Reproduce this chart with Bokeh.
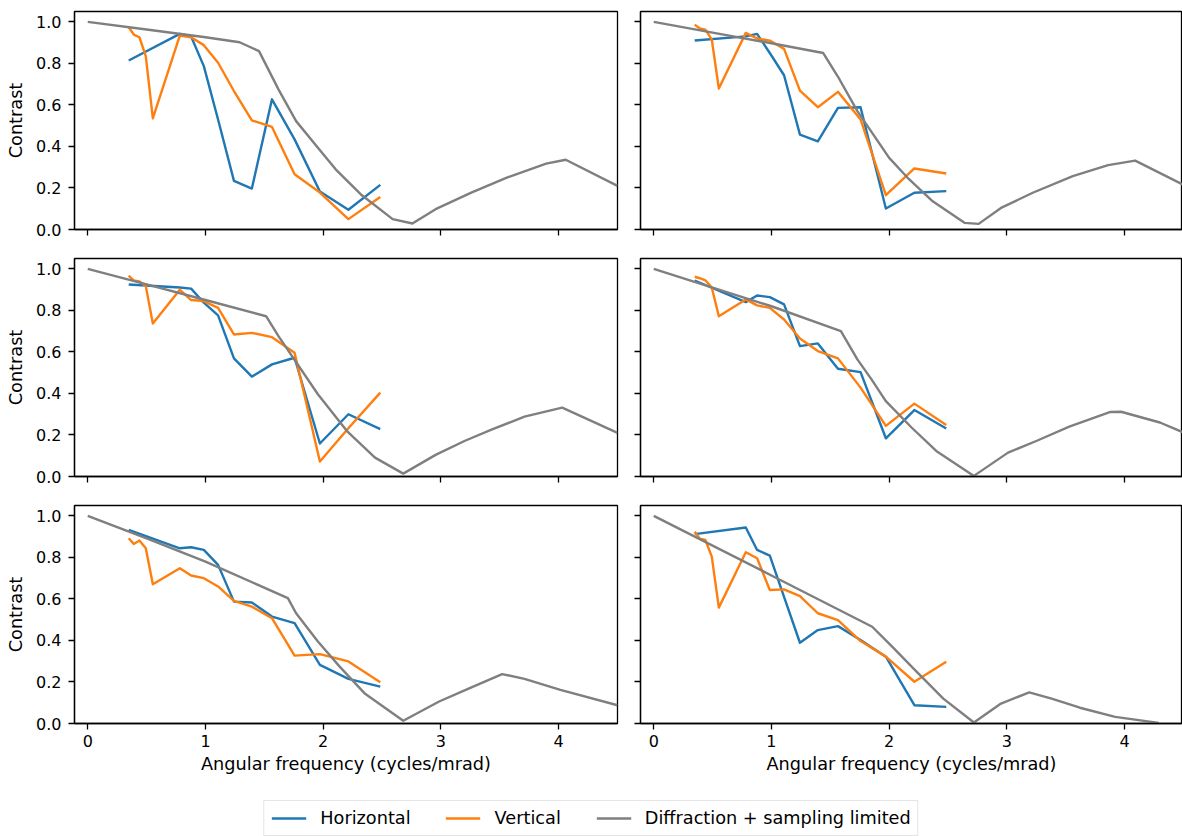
from bokeh.plotting import figure
from bokeh.models import Range1d, FixedTicker, PrintfTickFormatter, Legend, LegendItem
from bokeh.layouts import column, row
from bokeh.embed import file_html
from bokeh.resources import INLINE

# ---------------- data ----------------
freq_h = [0.348, 0.782, 0.878, 0.986, 1.107, 1.242, 1.394, 1.565, 1.757, 1.972, 2.214, 2.485]
freq_v = [0.348, 0.391, 0.439, 0.493, 0.553, 0.782, 0.878, 0.986, 1.107, 1.242, 1.394,
          1.565, 1.757, 1.972, 2.214, 2.485]

h1 = [0.814, 0.942, 0.930, 0.787, 0.530, 0.234, 0.197, 0.627, 0.434, 0.183, 0.095, 0.215]
v1 = [0.974, 0.939, 0.926, 0.835, 0.535, 0.934, 0.926, 0.888, 0.803, 0.667, 0.526, 0.494,
      0.266, 0.178, 0.050, 0.157]
g1x = [0, 0.5, 1.0, 1.29, 1.455, 1.62, 1.77, 1.955, 2.106, 2.318, 2.59, 2.758, 2.955,
       3.258, 3.56, 3.894, 4.06, 4.5]
g1y = [1.0, 0.963, 0.926, 0.902, 0.859, 0.675, 0.522, 0.394, 0.29, 0.17, 0.05, 0.029, 0.098,
       0.178, 0.25, 0.317, 0.336, 0.21]

h2 = [0.910, 0.930, 0.942, 0.850, 0.743, 0.457, 0.425, 0.586, 0.589, 0.101, 0.177, 0.185]
v2 = [0.987, 0.968, 0.963, 0.915, 0.679, 0.947, 0.920, 0.910, 0.870, 0.669, 0.589, 0.663,
      0.530, 0.165, 0.294, 0.270]
g2x = [0, 0.5, 1.0, 1.44, 1.563, 1.73, 2.0, 2.157, 2.37, 2.64, 2.76, 2.95, 3.22, 3.56,
       3.86, 4.09, 4.5]
g2y = [1.0, 0.948, 0.897, 0.85, 0.738, 0.57, 0.345, 0.249, 0.136, 0.032, 0.027, 0.104,
       0.177, 0.257, 0.31, 0.332, 0.215]

h3 = [0.925, 0.910, 0.905, 0.837, 0.776, 0.569, 0.481, 0.540, 0.572, 0.159, 0.300, 0.228]
v3 = [0.968, 0.944, 0.940, 0.917, 0.737, 0.900, 0.850, 0.845, 0.812, 0.684, 0.692, 0.671,
      0.596, 0.072, 0.232, 0.404]
g3x = [0, 0.5, 1.0, 1.515, 1.62, 1.955, 2.2, 2.44, 2.68, 2.955, 3.2, 3.44, 3.71, 4.03, 4.5]
g3y = [1.0, 0.925, 0.85, 0.772, 0.676, 0.396, 0.22, 0.091, 0.014, 0.104, 0.171, 0.228,
       0.288, 0.332, 0.21]

h4 = [0.944, 0.840, 0.872, 0.864, 0.829, 0.628, 0.641, 0.519, 0.503, 0.184, 0.320, 0.231]
v4 = [0.962, 0.955, 0.945, 0.910, 0.772, 0.853, 0.824, 0.812, 0.756, 0.665, 0.604, 0.569,
      0.428, 0.244, 0.351, 0.248]
g4x = [0, 0.5, 1.0, 1.59, 1.73, 1.85, 1.97, 2.19, 2.4, 2.72, 3.01, 3.25, 3.53, 3.88,
       3.97, 4.3, 4.5]
g4y = [1.0, 0.91, 0.82, 0.70, 0.564, 0.468, 0.364, 0.236, 0.123, 0.003, 0.115, 0.171,
       0.24, 0.311, 0.312, 0.26, 0.212]

h5 = [0.933, 0.844, 0.849, 0.836, 0.764, 0.587, 0.583, 0.515, 0.483, 0.282, 0.215, 0.178]
v5 = [0.892, 0.865, 0.881, 0.844, 0.671, 0.748, 0.713, 0.700, 0.660, 0.591, 0.563, 0.507,
      0.327, 0.334, 0.299, 0.199]
g5x = [0, 0.5, 1.0, 1.70, 1.77, 1.955, 2.14, 2.35, 2.68, 2.985, 3.23, 3.52, 3.71, 4.015, 4.5]
g5y = [1.0, 0.892, 0.78, 0.604, 0.531, 0.395, 0.274, 0.146, 0.013, 0.106, 0.167, 0.238,
       0.215, 0.162, 0.088]

h6 = [0.912, 0.944, 0.836, 0.809, 0.610, 0.389, 0.450, 0.469, 0.402, 0.322, 0.088, 0.080]
v6 = [0.924, 0.890, 0.884, 0.804, 0.558, 0.825, 0.796, 0.643, 0.646, 0.614, 0.531, 0.498,
      0.397, 0.322, 0.201, 0.297]
g6x = [0, 1.0, 1.856, 2.04, 2.22, 2.46, 2.72, 2.95, 3.19, 3.38, 3.62, 3.92, 4.29]
g6y = [1.0, 0.713, 0.466, 0.362, 0.257, 0.12, 0.005, 0.096, 0.15, 0.12, 0.076, 0.032, 0.003]

x_ticks = [0, 1, 2, 3, 4]
y_ticks = [0.0, 0.2, 0.4, 0.6, 0.8, 1.0]
series_names = ["Horizontal", "Vertical", "Diffraction + sampling limited"]
colors = ["#1f77b4", "#ff7f0e", "#7f7f7f"]
x_label = "Angular frequency (cycles/mrad)"
y_label = "Contrast"

panels = [
    (h1, v1, g1x, g1y), (h2, v2, g2x, g2y),
    (h3, v3, g3x, g3y), (h4, v4, g4x, g4y),
    (h5, v5, g5x, g5y), (h6, v6, g6x, g6y),
]

FONT = "DejaVu Sans"
FS_TICK = "16px"
FS_LABEL = "17.7px"
LW = 2.4
AXW = 1.3
FRAME_H = 218


def make_fig(idx, data):
    rowi, col = divmod(idx, 2)
    left = col == 0
    bottom = rowi == 2
    fw = 543 if left else 542
    bl = 74 if left else 13
    br = 10 if left else 0
    bt = 11 if rowi == 0 else 14
    bb = 56 if bottom else 15
    xr = Range1d(-0.1125, 4.5) if left else Range1d(-0.1125, 4.492)
    p = figure(width=bl + fw + br, height=bt + FRAME_H + bb,
               x_range=xr, y_range=Range1d(0, 1.05),
               output_backend="svg", toolbar_location=None,
               min_border_left=bl, min_border_right=br,
               min_border_top=bt, min_border_bottom=bb)
    p.grid.visible = False
    p.outline_line_color = "black"
    p.outline_line_width = AXW
    p.background_fill_color = "white"
    p.border_fill_color = "white"

    for ax in (p.xaxis[0], p.yaxis[0]):
        ax.axis_line_width = AXW
        ax.axis_line_color = "black"
        ax.major_tick_line_width = AXW
        ax.major_tick_line_color = "black"
        ax.major_tick_in = 0
        ax.major_tick_out = 6
        ax.minor_tick_line_color = None
        ax.major_label_text_font = FONT
        ax.major_label_text_font_size = FS_TICK
        ax.major_label_text_color = "black"
        ax.axis_label_text_font = FONT
        ax.axis_label_text_font_size = FS_LABEL
        ax.axis_label_text_font_style = "normal"
        ax.axis_label_text_color = "black"

    p.xaxis.ticker = FixedTicker(ticks=x_ticks, minor_ticks=[])
    p.yaxis.ticker = FixedTicker(ticks=y_ticks, minor_ticks=[])
    p.yaxis.formatter = PrintfTickFormatter(format="%.1f")

    if bottom:
        p.xaxis.axis_label = x_label
        p.xaxis.major_label_standoff = 5
        p.xaxis.axis_label_standoff = 4
    else:
        p.xaxis.major_label_text_color = None
        p.xaxis.major_label_text_font_size = "1px"
        p.xaxis.major_label_standoff = 0
    if left:
        p.yaxis.axis_label = y_label
        p.yaxis.major_label_standoff = 7
        p.yaxis.axis_label_standoff = 7
    else:
        p.yaxis.major_label_text_color = None
        p.yaxis.major_label_text_font_size = "1px"
        p.yaxis.major_label_standoff = 0

    h, v, gx, gy = data
    p.line(freq_h, h, line_color=colors[0], line_width=LW, line_join="round")
    p.line(freq_v, v, line_color=colors[1], line_width=LW, line_join="round")
    p.line(gx, gy, line_color=colors[2], line_width=LW, line_join="round")
    return p


figs = [make_fig(i, d) for i, d in enumerate(panels)]

# legend strip: the series are drawn outside its visible range, only the legend shows
lg = figure(width=1182, height=57, output_backend="svg", toolbar_location=None,
            x_range=Range1d(100, 101), y_range=Range1d(100, 101),
            min_border=0, min_border_left=0, min_border_right=0,
            min_border_top=0, min_border_bottom=0)
lg.axis.visible = False
lg.grid.visible = False
lg.outline_line_color = None
items = []
for name, c, xs, ys in zip(series_names, colors, [freq_h, freq_v, g1x], [h1, v1, g1y]):
    r = lg.line(xs, ys, line_color=c, line_width=LW)
    items.append(LegendItem(label=name, renderers=[r]))
legend = Legend(items=items, orientation="horizontal", location="bottom_center",
                margin=0, padding=7, spacing=35, glyph_width=35, glyph_height=20,
                label_standoff=14, label_height=20,
                label_text_font=FONT, label_text_font_size=FS_LABEL, label_text_color="black",
                border_line_color="#cccccc", border_line_width=1.3,
                background_fill_color="white", background_fill_alpha=0.8)
lg.add_layout(legend, "center")

layout = column(row(figs[0], figs[1]), row(figs[2], figs[3]), row(figs[4], figs[5]), lg)

with open("out.html", "w") as f:
    f.write(file_html(layout, INLINE))
